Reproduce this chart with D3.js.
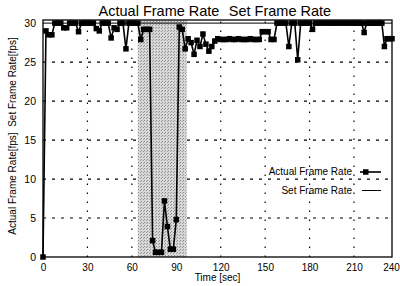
<!DOCTYPE html>
<html><head><meta charset="utf-8">
<script src="https://cdn.jsdelivr.net/npm/d3@7"></script>
<style>body{margin:0;background:#fff}svg{display:block}text{font-family:"Liberation Sans",Arial,Helvetica,sans-serif;fill:#000}</style>
</head><body><svg id="c" width="400" height="286"></svg>
<script>
const timeSec = [0,2,4,6,8,10,12,14,16,18,20,22,24,26,28,30,32,34,36,38,40,42,44,46,48,50,52,54,56,58,
  60,62,64,66,68,70,72,74,76,78,80,82,84,86,88,90,92,94,96,98,100,102,104,106,108,110,112,114,116,118,
  120,122,124,126,128,130,132,134,136,138,140,142,144,146,148,150,152,154,156,158,160,162,164,166,168,170,172,174,176,178,
  180,182,184,186,188,190,192,194,196,198,200,202,204,206,208,210,212,214,216,218,220,222,224,226,228,230,232,234,236,238,240];
const actualFps = [0,29,28.5,28.5,30,30,30,29.4,29.4,30,30,30,28.9,30,30,30,30,30,29.3,29,30,30,30,28.1,29.4,29.2,30,30,26.7,30,
  30,30,30,27.9,29.2,29.2,29.2,2.1,0.6,0.6,0.6,7.2,3.9,1.0,1.0,4.8,29.5,29.2,26.7,28,27.5,26,27.8,27,28.6,27.3,26.4,27,27.7,28,
  27.9,27.9,27.9,28,27.9,27.9,28,27.9,27.9,27.9,28,27.9,27.9,27.9,28.9,28.9,28.9,27.9,27.9,30,30,30,30,27,30,30,25.3,30,30,30,
  30,29.2,30,30,30,30,30,30,30,30,30,30,30,30,30,30,30,30,30,28.8,30,30,30,30,30,30,30,27,28,28,28];
const setTime = [0, 240];
const setFps = [30, 30];
const xTicks = [0,30,60,90,120,150,180,210,240];
const yTicks = [0,5,10,15,20,25,30];
const shadedSpan = [64, 97];
const titles = ["Actual Frame Rate", "Set Frame Rate"];
const legendLabels = ["Actual Frame Rate", "Set Frame Rate"];

const svg = d3.select("#c");
const x = d3.scaleLinear().domain([0,210,240]).range([43,354,392]);
const y = d3.scaleLinear().domain([0,30.4]).range([257,20]);
const pTop = y.range()[1], pBot = y.range()[0], pLeft = x.range()[0], pRight = x.range()[2];

// grid
svg.append("g").selectAll("line").data(xTicks.filter(d=>d>0&&d<240)).join("line")
  .attr("x1",d=>x(d)).attr("x2",d=>x(d)).attr("y1",pBot).attr("y2",pTop)
  .attr("stroke","#000").attr("stroke-width",1.2).attr("stroke-dasharray","1.5,7.5");
svg.append("g").selectAll("line").data(yTicks.filter(d=>d>0&&d<30)).join("line")
  .attr("x1",pLeft).attr("x2",pRight).attr("y1",d=>y(d)).attr("y2",d=>y(d))
  .attr("stroke","#000").attr("stroke-width",1.2).attr("stroke-dasharray","3,6");

// shaded region
const defs = svg.append("defs");
const pat = defs.append("pattern").attr("id","stip").attr("width",3).attr("height",3).attr("patternUnits","userSpaceOnUse");
pat.append("rect").attr("width",3).attr("height",3).attr("fill","#d8d8d8");
pat.append("rect").attr("x",0).attr("y",0).attr("width",1).attr("height",1).attr("fill","#8a8a8a");
pat.append("rect").attr("x",2).attr("y",1).attr("width",1).attr("height",1).attr("fill","#9a9a9a");
svg.append("rect").attr("x",x(shadedSpan[0])).attr("y",pTop).attr("width",x(shadedSpan[1])-x(shadedSpan[0])).attr("height",pBot-pTop)
  .attr("fill","url(#stip)");

// frame
svg.append("rect").attr("x",pLeft).attr("y",pTop).attr("width",pRight-pLeft).attr("height",pBot-pTop)
  .attr("fill","none").attr("stroke","#000").attr("stroke-width",1.3);

// set line
const setData = setTime.map((t,i)=>[t,setFps[i]]);
svg.append("path").datum(setData).attr("d",d3.line().x(d=>x(d[0])).y(d=>y(d[1])))
  .attr("fill","none").attr("stroke","#000").attr("stroke-width",1);

// actual line
const actData = timeSec.map((t,i)=>[t,actualFps[i]]);
svg.append("path").datum(actData).attr("d",d3.line().x(d=>x(d[0])).y(d=>y(d[1])))
  .attr("fill","none").attr("stroke","#000").attr("stroke-width",1.6);
const ms = 5.5;
svg.append("g").selectAll("rect").data(actData).join("rect")
  .attr("x",d=>x(d[0])-ms/2).attr("y",d=>y(d[1])-ms/2).attr("width",ms).attr("height",ms).attr("fill","#000");

// axes
const xa = svg.append("g").attr("transform",`translate(0,${pBot})`)
  .call(d3.axisBottom(x).tickValues(xTicks).tickSize(0).tickPadding(7).tickFormat(d3.format("d")));
xa.select(".domain").remove();
xa.selectAll("text").attr("font-size",10).style("font-family",'"Liberation Sans",Arial,sans-serif');
xa.selectAll(".tick").filter(d=>d===240).select("text").attr("dx",-1);
const ya = svg.append("g").attr("transform",`translate(${pLeft},0)`)
  .call(d3.axisLeft(y).tickValues(yTicks).tickSize(0).tickPadding(7).tickFormat(d3.format("d")));
ya.select(".domain").remove();
ya.selectAll("text").attr("font-size",10.5).style("font-family",'"Liberation Sans",Arial,sans-serif');

// labels
svg.append("text").attr("x",(pLeft+pRight)/2).attr("y",281).attr("text-anchor","middle").attr("font-size",10).text("Time [sec]");
svg.append("text").attr("transform","translate(16,136) rotate(-90)").attr("text-anchor","middle").attr("font-size",10)
  .attr("xml:space","preserve").text("Actual Frame Rate[fps]  Set Frame Rate[fps]");
svg.append("text").attr("x",159).attr("y",16).attr("text-anchor","middle").attr("font-size",14.5).text(titles[0]);
svg.append("text").attr("x",280).attr("y",16).attr("text-anchor","middle").attr("font-size",14.5).text(titles[1]);

// legend
svg.append("text").attr("x",352).attr("y",175).attr("text-anchor","end").attr("font-size",10).text(legendLabels[0]);
svg.append("text").attr("x",352).attr("y",194).attr("text-anchor","end").attr("font-size",10).text(legendLabels[1]);
svg.append("line").attr("x1",360).attr("x2",381).attr("y1",172).attr("y2",172).attr("stroke","#000").attr("stroke-width",1.6);
svg.append("rect").attr("x",363).attr("y",169.25).attr("width",ms).attr("height",ms).attr("fill","#000");
svg.append("line").attr("x1",362).attr("x2",381).attr("y1",190.5).attr("y2",190.5).attr("stroke","#000").attr("stroke-width",1);
</script></body></html>
